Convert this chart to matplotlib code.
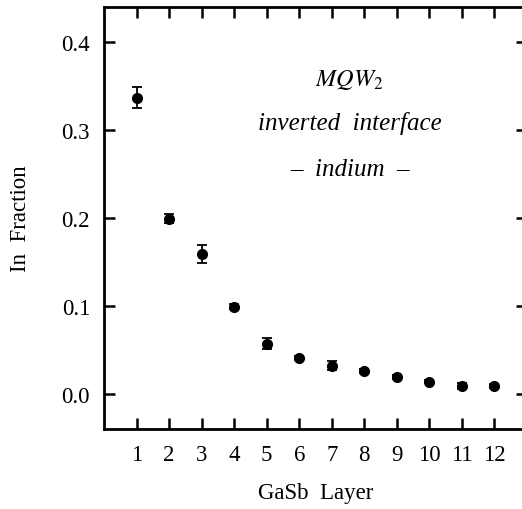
import numpy as np
import matplotlib.pyplot as plt

plt.rcParams['font.family'] = ['Liberation Serif', 'DejaVu Serif']
plt.rcParams['mathtext.fontset'] = 'stix'

layers = [1, 2, 3, 4, 5, 6, 7, 8, 9, 10, 11, 12]
in_fraction = [0.337, 0.199, 0.159, 0.099, 0.057, 0.041, 0.032, 0.026, 0.019, 0.014, 0.009, 0.009]
errors = [0.012, 0.005, 0.010, 0.003, 0.006, 0.002, 0.005, 0.002, 0.002, 0.002, 0.003, 0.002]
yticks = [0.0, 0.1, 0.2, 0.3, 0.4]

fig = plt.figure(figsize=(5.22, 5.10), dpi=100)
# axes deliberately runs past the right edge, as in the cropped original
ax = fig.add_axes([104 / 522, 80 / 510, 423 / 522, 422 / 510])

ax.errorbar(layers, in_fraction, yerr=errors, fmt='o', color='black',
            markersize=7, capsize=3.5, elinewidth=1.3, capthick=1.3)

ax.set_xlim(0, 13)
ax.set_ylim(-0.04, 0.44)
ax.set_xticks(layers)
ax.set_yticks(yticks)
ax.set_yticklabels([f'{v:.1f}' for v in yticks])
ax.tick_params(direction='in', length=8, width=1.8, labelsize=16.5,
               top=True, right=True)
ax.tick_params(axis='x', pad=11)
ax.tick_params(axis='y', pad=10)
for s in ax.spines.values():
    s.set_linewidth(2)

ax.set_xlabel('GaSb  Layer', fontsize=16.5, labelpad=12)
ax.set_ylabel('In  Fraction', fontsize=16.5, labelpad=22)

ax.text(7.55, 0.358, r'$MQW_2$', fontsize=17.5, ha='center', va='center')
ax.text(7.55, 0.309, 'inverted  interface', fontsize=18, style='italic',
        ha='center', va='center')
ax.text(7.55, 0.256, '\u2013  indium  \u2013', fontsize=18, style='italic',
        ha='center', va='center')

fig.savefig('out.png', dpi=100)
